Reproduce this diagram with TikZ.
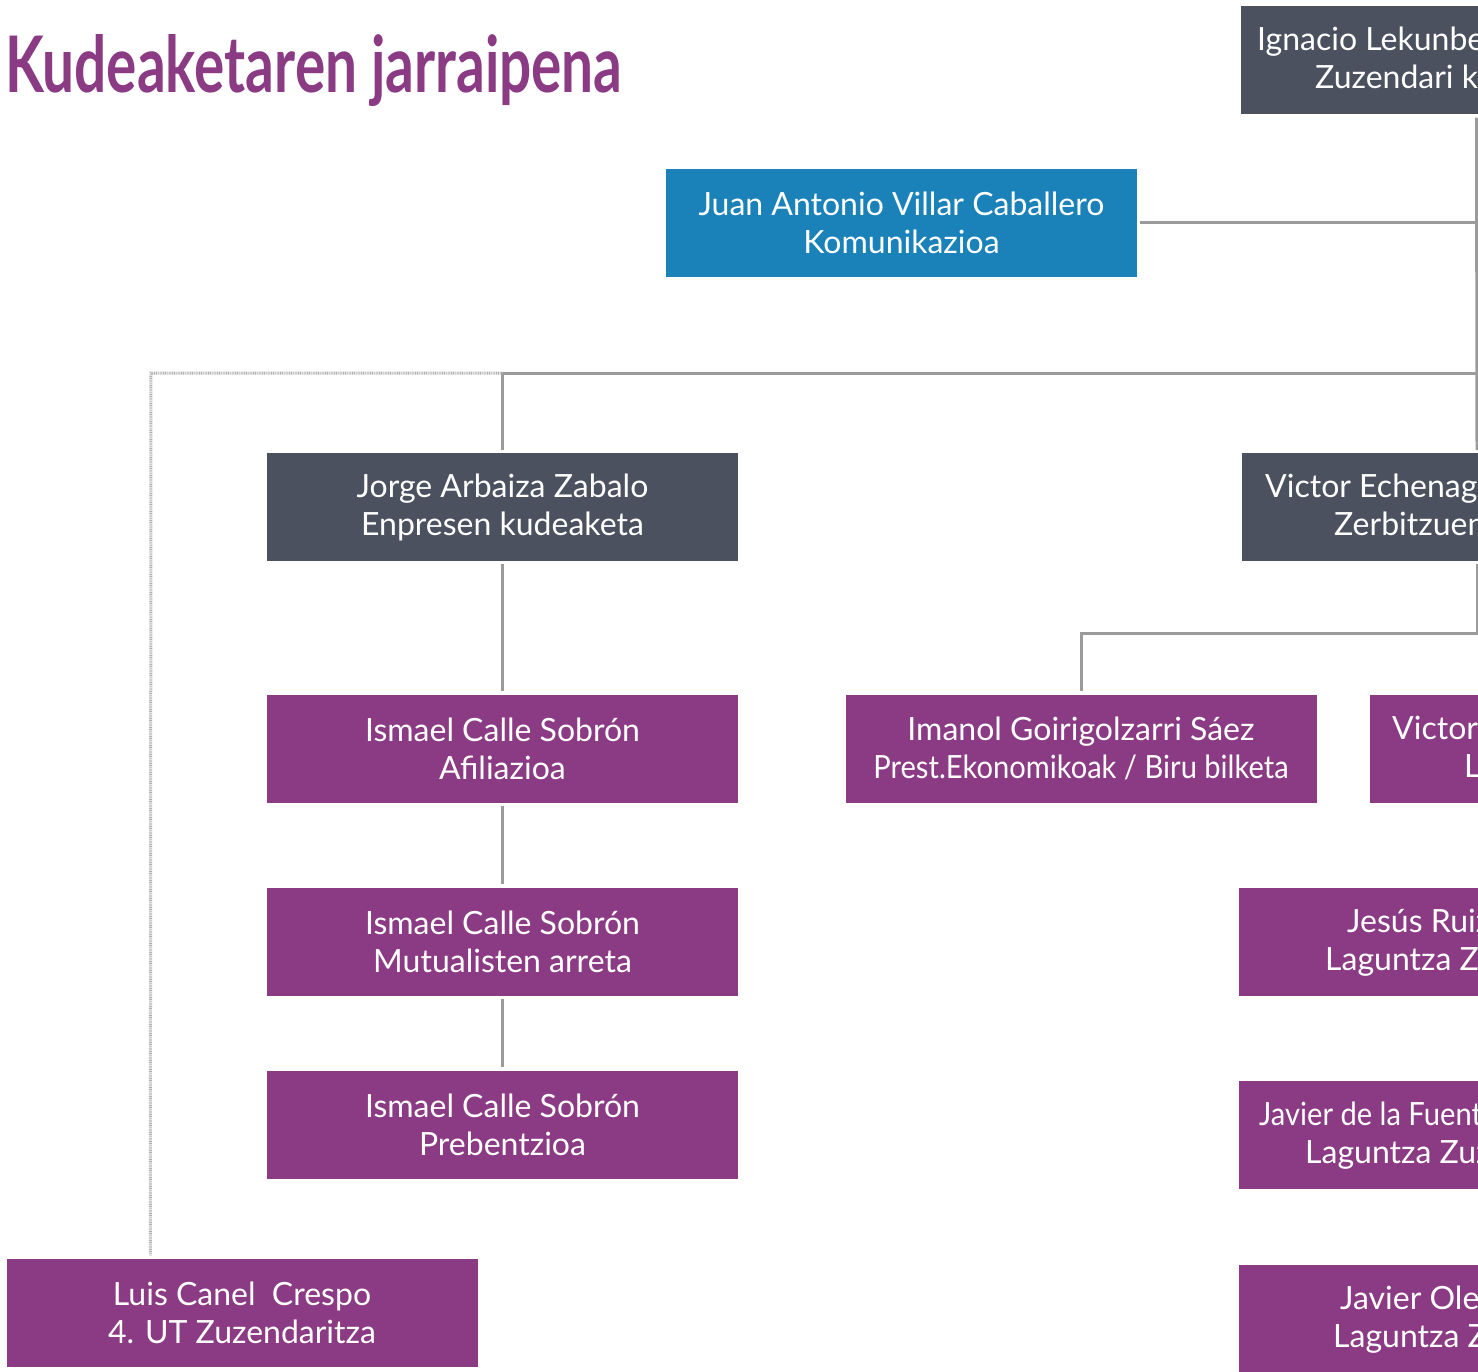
\documentclass[tikz,border=0pt]{standalone}
\usepackage{fontspec}
\usepackage{graphicx}
\setmainfont{Lato}
\definecolor{purp}{HTML}{8B3A84}
\definecolor{darkbox}{HTML}{4B515E}
\definecolor{bluebox}{HTML}{1A82B9}
\definecolor{linegray}{HTML}{9B9B9B}
\newcommand{\boxfont}{\fontsize{32}{38}\selectfont}
\newcommand{\squeeze}[1]{\scalebox{0.91}[1]{#1}}
\begin{document}
\begin{tikzpicture}[x=1pt,y=-1pt,
  box/.style={rectangle, minimum width=471pt, minimum height=108pt, inner sep=0pt, text=white, align=center, font=\boxfont},
  gbox/.style={box, fill=darkbox},
  pbox/.style={box, fill=purp},
  bbox/.style={box, fill=bluebox},
  conn/.style={draw=linegray, line width=3pt},
  dotconn/.style={draw=linegray!80, line width=3pt, dash pattern=on 1pt off 0.8pt},
  lbl/.style={anchor=base west, inner sep=0pt, text=white, font=\boxfont}]
\useasboundingbox (0,0) rectangle (1478,1372);
\clip (0,0) rectangle (1478,1372);

\node[anchor=base west, inner sep=0pt, text=purp] (title) at (5,93) {\resizebox{617pt}{58pt}{\bfseries Kudeaketaren jarraipena}};

% full boxes
\node[bbox] (juan) at (901.5,223) {Juan Antonio Villar Caballero\\Komunikazioa};
\node[gbox] (jorge) at (502.5,507) {Jorge Arbaiza Zabalo\\Enpresen kudeaketa};
\node[pbox] (ism1) at (502.5,748.5) {Ismael Calle Sobrón\\Afiliazioa};
\node[pbox] (ism2) at (502.5,941.5) {Ismael Calle Sobrón\\Mutualisten arreta};
\node[pbox] (ism3) at (502.5,1124.5) {Ismael Calle Sobrón\\Prebentzioa};
\node[pbox] (luis) at (242,1312.5) {Luis Canel\ \ Crespo\\4. UT Zuzendaritza};
\node[pbox] (imanol) at (1081,748.5) {Imanol Goirigolzarri Sáez\\\squeeze{Prest.Ekonomikoak / Biru bilketa}};

% boxes cut by the right edge
\node[gbox] (ign) at (1476.5,60.5) {};
\node[gbox] (vic) at (1477,507) {};
\node[pbox] (vic2) at (1605.5,748.5) {};
\node[pbox] (jesus) at (1474.5,942) {};
\node[pbox] (jfu) at (1474.5,1135) {};
\node[pbox] (jole) at (1474.5,1319) {};

\node[lbl] (ignA) at (1257,51) {Ignacio Lekunbe};
\node[lbl] (ignB) at (1315,89) {Zuzendari k};
\node[lbl] (vicA) at (1265,497) {Victor Echenagu};
\node[lbl] (vicB) at (1334,535) {Zerbitzuen};
\node[lbl] (vic2A) at (1392,739) {Victor};
\node[lbl] (vic2B) at (1464,777) {L};
\node[lbl] (jesusA) at (1347,932) {Jesús Ruiz};
\node[lbl] (jesusB) at (1325,970) {Laguntza Z};
\node[lbl] (jfuA) at (1259,1125) {\squeeze{Javier de la Fuente}};
\node[lbl] (jfuB) at (1305,1163) {Laguntza Zuz};
\node[lbl] (joleA) at (1340,1309) {Javier Ole};
\node[lbl] (joleB) at (1333,1347) {Laguntza Z};

% connectors
\coordinate (hub) at (1477,373);
\coordinate (dotc) at (151,373);
\coordinate (luistop) at ([xshift=144pt]luis.north west);
\draw[conn, shorten <=3pt, shorten >=3pt] (ign.south) -- (vic.north);
\draw[conn, shorten <=3pt] (juan.east) -- (juan.east -| ign.south);
\draw[conn, shorten >=3pt] (hub) -- (hub -| jorge.north) -- (jorge.north);
\draw[dotconn, shorten >=3pt] (hub -| jorge.north) -- (dotc) -- (luistop);
\draw[conn, shorten <=3pt, shorten >=3pt] (vic.south) -- ++(0,72) -| (imanol.north);
\draw[conn, shorten <=3pt, shorten >=3pt] (jorge.south) -- (ism1.north);
\draw[conn, shorten <=3pt, shorten >=3pt] (ism1.south) -- (ism2.north);
\draw[conn, shorten <=3pt, shorten >=3pt] (ism2.south) -- (ism3.north);
\end{tikzpicture}
\end{document}
